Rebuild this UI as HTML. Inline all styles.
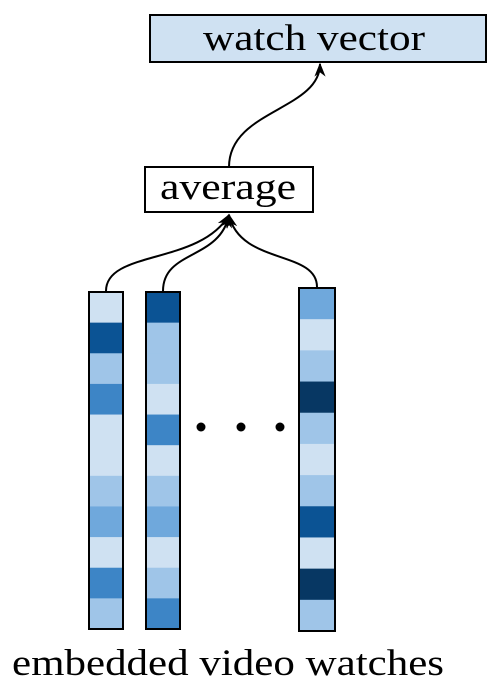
<!DOCTYPE html>
<html><head><meta charset="utf-8"><style>body{margin:0;background:#fff}svg{display:block}</style></head>
<body>
<svg width="488" height="692" font-family="Liberation Serif, serif">
<defs><marker id="ar" viewBox="0 0 10 10" refX="9" refY="5" markerWidth="7" markerHeight="7" orient="auto"><path d="M0,1 L10,5 L0,9 L3,5z" fill="#000"/></marker></defs>
<rect x="150" y="15" width="336" height="47" fill="#cfe1f2" stroke="#000" stroke-width="2"/>
<text x="203" y="50" font-size="37" textLength="222" lengthAdjust="spacingAndGlyphs">watch vector</text>
<rect x="145" y="167" width="168" height="45" fill="#fff" stroke="#000" stroke-width="2"/>
<text x="160" y="199" font-size="37" textLength="136" lengthAdjust="spacingAndGlyphs">average</text>
<path d="M229,167 C229,110 320,110 320,64" fill="none" stroke="#000" stroke-width="2" marker-end="url(#ar)"/>
<path d="M106,291 C106,250 200,265 229,215" fill="none" stroke="#000" stroke-width="2" marker-end="url(#ar)"/>
<path d="M163,291 C163,250 220,260 229,215" fill="none" stroke="#000" stroke-width="2" marker-end="url(#ar)"/>
<path d="M317,287 C317,250 240,265 229,215" fill="none" stroke="#000" stroke-width="2" marker-end="url(#ar)"/>
<g id="cols"></g>
<circle cx="201" cy="427" r="4.5"/>
<circle cx="241" cy="427" r="4.5"/>
<circle cx="280" cy="427" r="4.5"/>
<text x="12" y="675" font-size="37" textLength="432" lengthAdjust="spacingAndGlyphs">embedded video watches</text>
</svg>
<script>
const palette=["#cfe1f2","#9fc5e8","#6fa8dc","#3d85c6","#0b5394","#073763"];
const col1=[0,4,1,3,0,0,1,2,0,3,1];
const col2=[4,1,1,0,3,0,1,2,0,1,3];
const col3=[2,0,1,5,1,0,1,4,0,5,1];
const g=document.getElementById('cols');
const ns='http://www.w3.org/2000/svg';
[[col1,89,292,34,337],[col2,146,292,34,337],[col3,299,288,36,343]].forEach((c,ci)=>{
  const [vals,x,y,w,h]=c;const ch=h/vals.length;
  vals.forEach((v,i)=>{const r=document.createElementNS(ns,'rect');
    r.setAttribute('x',x);r.setAttribute('y',y+i*ch);r.setAttribute('width',w);r.setAttribute('height',ch+0.5);r.setAttribute('fill',palette[v]);
    
    
    g.appendChild(r);});
  const b=document.createElementNS(ns,'rect');
  b.setAttribute('x',x);b.setAttribute('y',y);b.setAttribute('width',w);b.setAttribute('height',h);b.setAttribute('fill','none');b.setAttribute('stroke','#000');b.setAttribute('stroke-width','2');
  
  
  g.appendChild(b);
});
</script>
</body></html>
